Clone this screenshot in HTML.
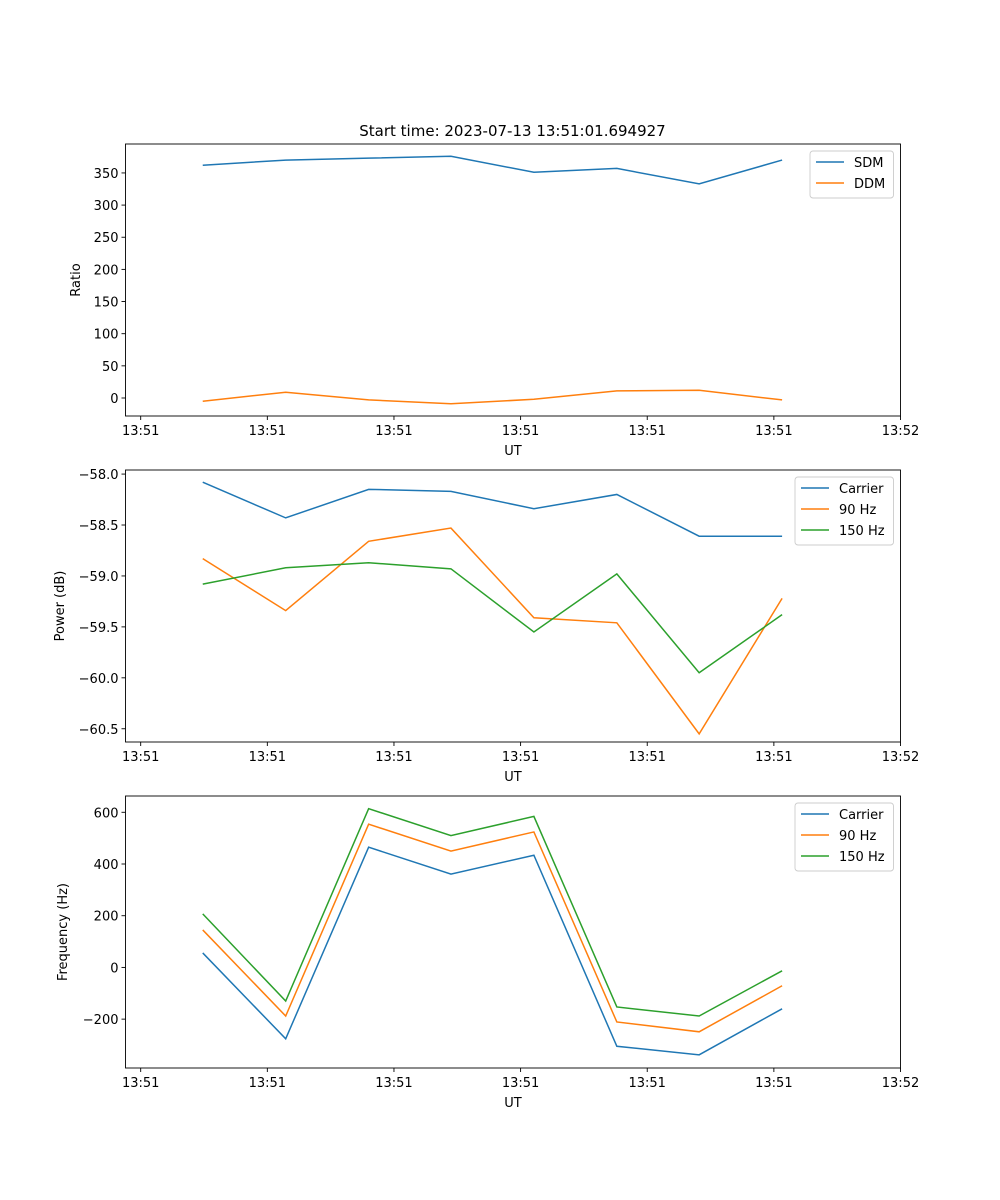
<!DOCTYPE html>
<html><head><meta charset="utf-8"><style>
html,body{margin:0;padding:0;background:#fff}
svg{display:block;font-family:"DejaVu Sans","Liberation Sans",sans-serif}
</style></head><body>
<svg id="fig" width="1000" height="1200" viewBox="0 0 1000 1200" xmlns="http://www.w3.org/2000/svg">
<text x="512.5" y="136" font-size="15" text-anchor="middle">Start time: 2023-07-13 13:51:01.694927</text>
</svg>
<script>
// shared x data (seconds after 13:51:00)
const times = [4.9, 11.45, 18.0, 24.5, 31.05, 37.6, 44.1, 50.65];
const xTicks = [0, 10, 20, 30, 40, 50, 60];
const xTickLabels = ["13:51","13:51","13:51","13:51","13:51","13:51","13:52"];
// panel 1
const sdm = [362, 370, 373, 376, 351, 357, 333, 370];
const ddm = [-5, 9, -3, -9, -2, 11, 12, -3];
const ratioTicks = [0, 50, 100, 150, 200, 250, 300, 350];
// panel 2
const powCarrier = [-58.08, -58.43, -58.15, -58.17, -58.34, -58.20, -58.61, -58.61];
const pow90 = [-58.83, -59.34, -58.66, -58.53, -59.41, -59.46, -60.55, -59.22];
const pow150 = [-59.08, -58.92, -58.87, -58.93, -59.55, -58.98, -59.95, -59.38];
const powTicks = [-60.5, -60.0, -59.5, -59.0, -58.5, -58.0];
// panel 3
const frqCarrier = [56, -276, 465, 361, 434, -305, -338, -160];
const frq90 = [145, -188, 554, 450, 524, -211, -249, -71];
const frq150 = [207, -130, 614, 510, 584, -153, -188, -13];
const frqTicks = [-200, 0, 200, 400, 600];

const NS = "http://www.w3.org/2000/svg";
const svg = document.getElementById("fig");
function mk(tag, attrs, parent){const e=document.createElementNS(NS,tag);for(const k in attrs)e.setAttribute(k,attrs[k]);(parent||svg).appendChild(e);return e;}
const L=125.5, R=900.5, xmin=-1.2, xmax=60.0;
function X(t){return L+(t-xmin)/(xmax-xmin)*(R-L);}
const C={b:"#1f77b4",o:"#ff7f0e",g:"#2ca02c"};

function panel(name, top, bottom, ymin, ymax, yTicks, fmt, ylabel, ylabX, series, legend){
  const g=mk("g",{});
  
  
  const Y=v=>bottom-(v-ymin)/(ymax-ymin)*(bottom-top);
  series.forEach(s=>{
    const p=mk("polyline",{points:times.map((t,i)=>X(t)+","+Y(s.vals[i])).join(" "),fill:"none",stroke:s.c,"stroke-width":1.5},g);
    
    
  });
  const fr=mk("rect",{x:L,y:top,width:R-L,height:bottom-top,fill:"none",stroke:"#000","stroke-width":0.9},g);
  
  
  xTicks.forEach((t,i)=>{
    mk("line",{x1:X(t),x2:X(t),y1:bottom,y2:bottom+4,stroke:"#000","stroke-width":0.9},g);
    const tx=mk("text",{x:X(t),y:bottom+19,"font-size":13,"text-anchor":"middle"},g);
    tx.textContent=xTickLabels[i];
    
    
  });
  yTicks.forEach(v=>{
    mk("line",{x1:L-4,x2:L,y1:Y(v),y2:Y(v),stroke:"#000","stroke-width":0.9},g);
    const tx=mk("text",{x:L-7,y:Y(v)+5,"font-size":13,"text-anchor":"end"},g);
    tx.textContent=fmt(v);
    
    
  });
  const xl=mk("text",{x:(L+R)/2,y:bottom+39,"font-size":13,"text-anchor":"middle"},g);
  xl.textContent="UT";
  
  
  const cy=(top+bottom)/2;
  const yl=mk("text",{x:ylabX,y:cy,"font-size":13,"text-anchor":"middle",transform:"rotate(-90 "+ylabX+" "+cy+")"},g);
  yl.textContent=ylabel;
  
  
  // legend
  const lg=mk("g",{},g);
  
  
  mk("rect",{x:legend.x,y:top+7,width:R-7-legend.x,height:series.length*21+5,rx:3,fill:"#fff",stroke:"#ccc","stroke-width":0.9},lg);
  series.forEach((s,i)=>{
    const yy=top+18+i*21;
    mk("line",{x1:legend.x+6,x2:legend.x+34,y1:yy,y2:yy,stroke:s.c,"stroke-width":1.5},lg);
    const t=mk("text",{x:legend.x+44,y:yy+5,"font-size":13},lg);
    t.textContent=s.label;
    
    
  });
}
const minus=s=>s.replace("-","\u2212");
panel("ratio-panel",144,416,-28,395,ratioTicks,v=>minus(String(v)),"Ratio",80,
  [{vals:sdm,c:C.b,n:"sdm",label:"SDM"},{vals:ddm,c:C.o,n:"ddm",label:"DDM"}],{x:810});
panel("power-panel",470,742,-60.63,-57.96,powTicks,v=>minus(v.toFixed(1)),"Power (dB)",64,
  [{vals:powCarrier,c:C.b,n:"carrier",label:"Carrier"},{vals:pow90,c:C.o,n:"90hz",label:"90 Hz"},{vals:pow150,c:C.g,n:"150hz",label:"150 Hz"}],{x:795});
panel("frequency-panel",796,1068,-389,663,frqTicks,v=>minus(String(v)),"Frequency (Hz)",67,
  [{vals:frqCarrier,c:C.b,n:"carrier",label:"Carrier"},{vals:frq90,c:C.o,n:"90hz",label:"90 Hz"},{vals:frq150,c:C.g,n:"150hz",label:"150 Hz"}],{x:795});
</script>
</body></html>
